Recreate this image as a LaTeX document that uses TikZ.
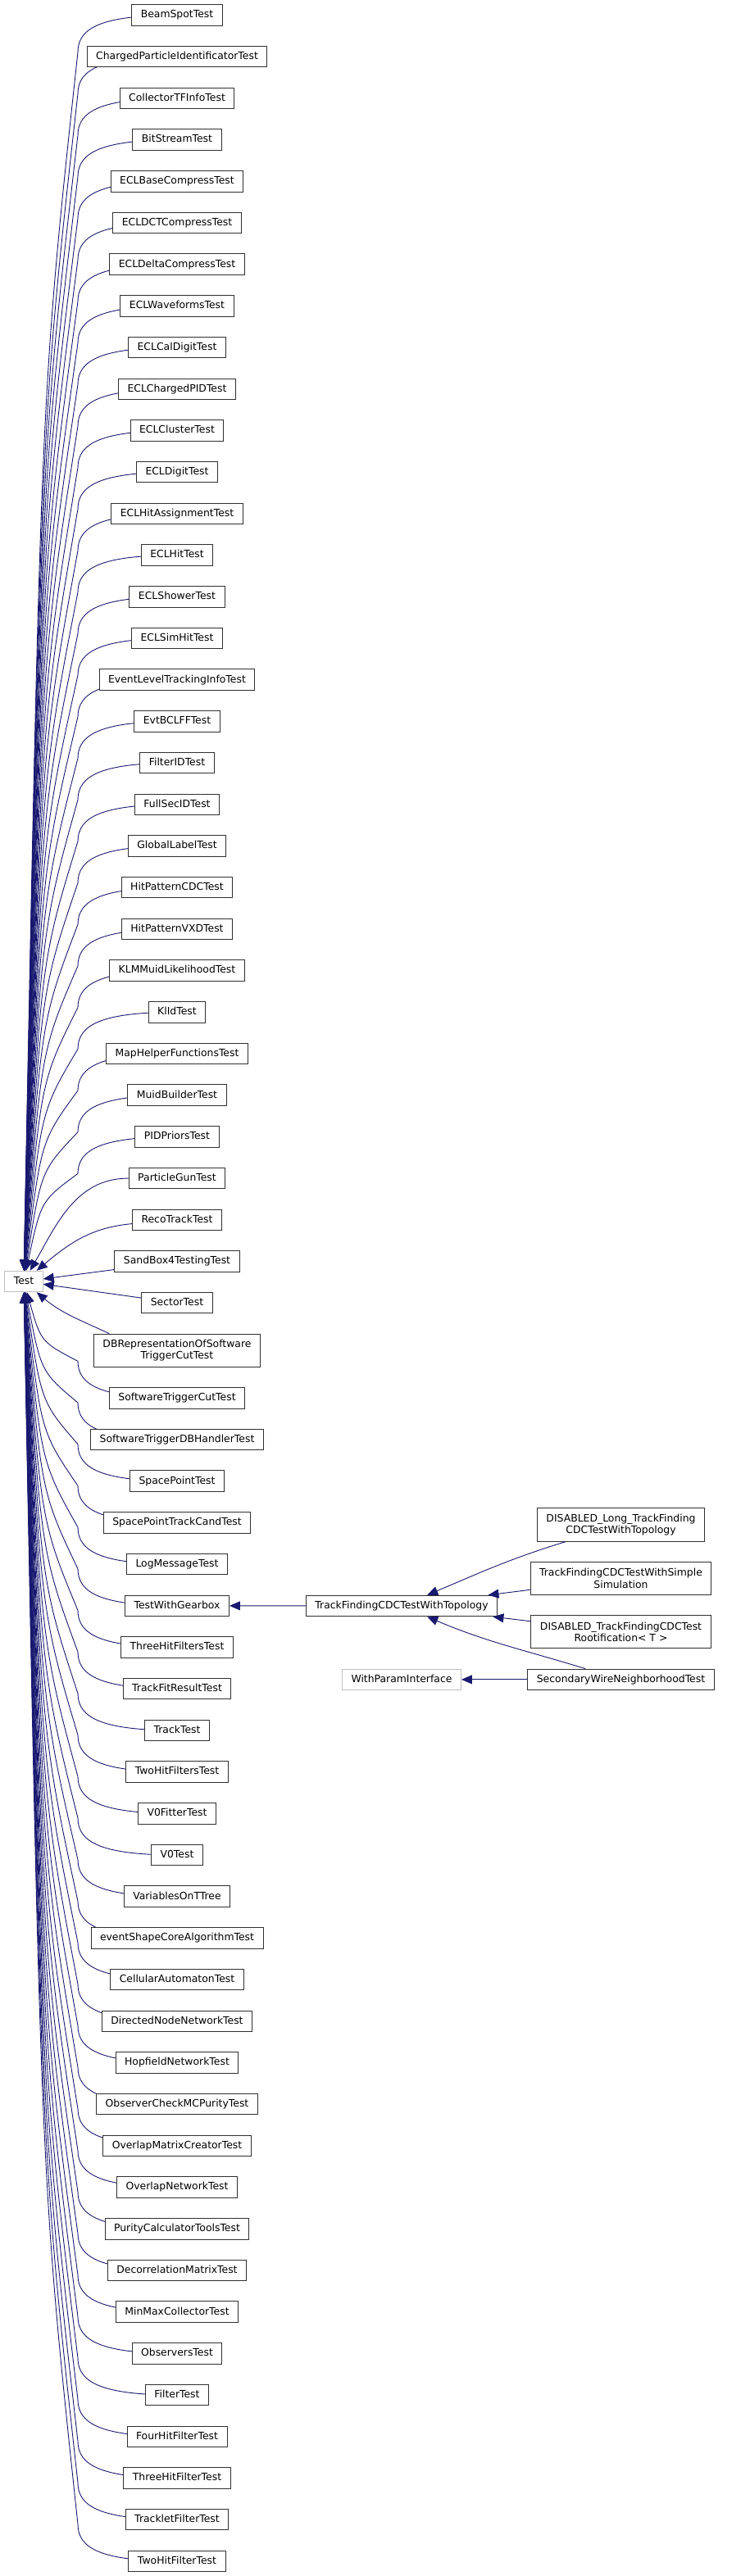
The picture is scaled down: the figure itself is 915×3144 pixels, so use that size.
\documentclass[tikz,border=0pt]{standalone}
\usepackage{fontspec}
\setmainfont{DejaVu Sans}
\usepackage{tikz}
\usetikzlibrary{arrows.meta, positioning, calc, backgrounds}
\definecolor{edgeblue}{HTML}{191970}
\definecolor{framegray}{HTML}{BFBFBF}
\definecolor{framedark}{HTML}{303030}
\tikzset{
    base/.style={draw=framedark, line width=1pt, font=\fontsize{12.4}{14.3}\selectfont, align=center, inner xsep=11pt, inner ysep=0pt, fill=white},
    block/.style={base, rectangle, minimum height=25.5pt, text height=9.3pt, text depth=2.7pt},
    blocktwo/.style={base, rectangle, minimum height=40.2pt},
    blockgray/.style={block, draw=framegray},
    inherit/.style={draw=edgeblue, line width=0.9pt, -{Triangle[length=13pt, width=11pt]}},
    upleg/.style={to path={let \p1=(\tikztostart.center), \p2=(\tikztotarget.north) in
        (\p1) .. controls (125pt,\y1) and (95pt,\y1-15pt) .. (95pt,\y1-45pt)
        .. controls (50pt,{\y1-45pt+0.28*(\y2-(\y1)+45pt)}) .. (\tikztotarget)}},
    downleg/.style={to path={let \p1=(\tikztostart.center), \p2=(\tikztotarget.south) in
        (\p1) .. controls (125pt,\y1) and (95pt,\y1+15pt) .. (95pt,\y1+45pt)
        .. controls (50pt,{\y1+45pt+0.28*(\y2-(\y1)-45pt)}) .. (\tikztotarget)}}
}
\begin{document}
\begin{tikzpicture}[x=1pt, y=-1pt, node distance=24.2pt]
    \useasboundingbox (0,0) rectangle (915,3144);

    \node [blockgray] (test) at (29,1564) {Test};

    \node [block] (beamspot) at (216,18.5) {BeamSpotTest};
    \node [block, below=of beamspot] (chargedpid) {ChargedParticleIdentificatorTest};
    \node [block, below=of chargedpid] (collectortf) {CollectorTFInfoTest};
    \node [block, below=of collectortf] (bitstream) {BitStreamTest};
    \node [block, below=of bitstream] (eclbasecomp) {ECLBaseCompressTest};
    \node [block, below=of eclbasecomp] (ecldctcomp) {ECLDCTCompressTest};
    \node [block, below=of ecldctcomp] (ecldeltacomp) {ECLDeltaCompressTest};
    \node [block, below=of ecldeltacomp] (eclwaveforms) {ECLWaveformsTest};
    \node [block, below=of eclwaveforms] (eclcaldigit) {ECLCalDigitTest};
    \node [block, below=of eclcaldigit] (eclchargedpid) {ECLChargedPIDTest};
    \node [block, below=of eclchargedpid] (eclcluster) {ECLClusterTest};
    \node [block, below=of eclcluster] (ecldigit) {ECLDigitTest};
    \node [block, below=of ecldigit] (eclhitassign) {ECLHitAssignmentTest};
    \node [block, below=of eclhitassign] (eclhit) {ECLHitTest};
    \node [block, below=of eclhit] (eclshower) {ECLShowerTest};
    \node [block, below=of eclshower] (eclsimhit) {ECLSimHitTest};
    \node [block, below=of eclsimhit] (evtlevel) {EventLevelTrackingInfoTest};
    \node [block, below=of evtlevel] (evtbclff) {EvtBCLFFTest};
    \node [block, below=of evtbclff] (filterid) {FilterIDTest};
    \node [block, below=of filterid] (fullsecid) {FullSecIDTest};
    \node [block, below=of fullsecid] (globallabel) {GlobalLabelTest};
    \node [block, below=of globallabel] (hitpatcdc) {HitPatternCDCTest};
    \node [block, below=of hitpatcdc] (hitpatvxd) {HitPatternVXDTest};
    \node [block, below=of hitpatvxd] (klmmuid) {KLMMuidLikelihoodTest};
    \node [block, below=of klmmuid] (klid) {KlIdTest};
    \node [block, below=of klid] (maphelper) {MapHelperFunctionsTest};
    \node [block, below=of maphelper] (muidbuilder) {MuidBuilderTest};
    \node [block, below=of muidbuilder] (pidpriors) {PIDPriorsTest};
    \node [block, below=of pidpriors] (particlegun) {ParticleGunTest};
    \node [block, below=of particlegun] (recotrack) {RecoTrackTest};
    \node [block, below=of recotrack] (sandbox) {SandBox4TestingTest};
    \node [block, below=of sandbox] (sector) {SectorTest};
    \node [blocktwo, below=of sector] (dbrep) {DBRepresentationOfSoftware\\TriggerCutTest};
    \node [block, below=of dbrep] (swtrigcut) {SoftwareTriggerCutTest};
    \node [block, below=of swtrigcut] (swtrigdb) {SoftwareTriggerDBHandlerTest};
    \node [block, below=of swtrigdb] (spacepoint) {SpacePointTest};
    \node [block, below=of spacepoint] (sptrackcand) {SpacePointTrackCandTest};
    \node [block, below=of sptrackcand] (logmessage) {LogMessageTest};
    \node [block, below=of logmessage] (gearbox) {TestWithGearbox};
    \node [block, below=of gearbox] (threehits) {ThreeHitFiltersTest};
    \node [block, below=of threehits] (trackfitres) {TrackFitResultTest};
    \node [block, below=of trackfitres] (track) {TrackTest};
    \node [block, below=of track] (twohits) {TwoHitFiltersTest};
    \node [block, below=of twohits] (v0fitter) {V0FitterTest};
    \node [block, below=of v0fitter] (v0) {V0Test};
    \node [block, below=of v0] (varsontree) {VariablesOnTTree};
    \node [block, below=of varsontree] (eventshape) {eventShapeCoreAlgorithmTest};
    \node [block, below=of eventshape] (cellauto) {CellularAutomatonTest};
    \node [block, below=of cellauto] (dirnodenet) {DirectedNodeNetworkTest};
    \node [block, below=of dirnodenet] (hopfield) {HopfieldNetworkTest};
    \node [block, below=of hopfield] (obscheckmc) {ObserverCheckMCPurityTest};
    \node [block, below=of obscheckmc] (overlapmatrix) {OverlapMatrixCreatorTest};
    \node [block, below=of overlapmatrix] (overlapnet) {OverlapNetworkTest};
    \node [block, below=of overlapnet] (puritycalc) {PurityCalculatorToolsTest};
    \node [block, below=of puritycalc] (decorrmatrix) {DecorrelationMatrixTest};
    \node [block, below=of decorrmatrix] (minmax) {MinMaxCollectorTest};
    \node [block, below=of minmax] (observers) {ObserversTest};
    \node [block, below=of observers] (filter) {FilterTest};
    \node [block, below=of filter] (fourhit) {FourHitFilterTest};
    \node [block, below=of fourhit] (threehit) {ThreeHitFilterTest};
    \node [block, below=of threehit] (tracklet) {TrackletFilterTest};
    \node [block, below=of tracklet] (twohit) {TwoHitFilterTest};

    \node [block] (tfcdc) at (490,1960) {TrackFindingCDCTestWithTopology};
    \node [blocktwo] (longtf) at (757.5,1861) {DISABLED\_Long\_TrackFinding\\CDCTestWithTopology};
    \node [blocktwo, below=of longtf] (simplesim) {TrackFindingCDCTestWithSimple\\Simulation};
    \node [blocktwo, below=of simplesim] (rootif) {DISABLED\_TrackFindingCDCTest\\Rootification< T >};
    \node [block, below=of rootif] (secwire) {SecondaryWireNeighborhoodTest};
    \node [blockgray] (withparam) at (tfcdc |- secwire) {WithParamInterface};

    \begin{scope}[on background layer]
        \foreach \n in {beamspot, chargedpid, collectortf, bitstream, eclbasecomp, ecldctcomp,
            ecldeltacomp, eclwaveforms, eclcaldigit, eclchargedpid, eclcluster, ecldigit,
            eclhitassign, eclhit, eclshower, eclsimhit, evtlevel, evtbclff, filterid, fullsecid,
            globallabel, hitpatcdc, hitpatvxd, klmmuid, klid, maphelper, muidbuilder, pidpriors}
            \draw [inherit, upleg] (\n) to (test);
        \foreach \n in {swtrigcut, swtrigdb, spacepoint, sptrackcand, logmessage, gearbox,
            threehits, trackfitres, track, twohits, v0fitter, v0, varsontree, eventshape,
            cellauto, dirnodenet, hopfield, obscheckmc, overlapmatrix, overlapnet, puritycalc,
            decorrmatrix, minmax, observers, filter, fourhit, threehit, tracklet, twohit}
            \draw [inherit, downleg] (\n) to (test);
    \end{scope}

    \draw [inherit] (particlegun) to[out=180, in=60] (test);
    \draw [inherit] (recotrack) to[out=185, in=40] (test);
    \draw [inherit] (sandbox) -- (test);
    \draw [inherit] (sector) -- (test);
    \draw [inherit] (dbrep.166) to[out=155, in=-40] (test);

    \draw [inherit] (tfcdc) -- (gearbox);
    \draw [inherit] (longtf) to[out=197, in=23] (tfcdc);
    \draw [inherit] (simplesim) -- (tfcdc);
    \draw [inherit] (rootif) -- (tfcdc);
    \draw [inherit] (secwire) to[out=163, in=-23] (tfcdc);
    \draw [inherit] (secwire) -- (withparam);
\end{tikzpicture}
\end{document}
